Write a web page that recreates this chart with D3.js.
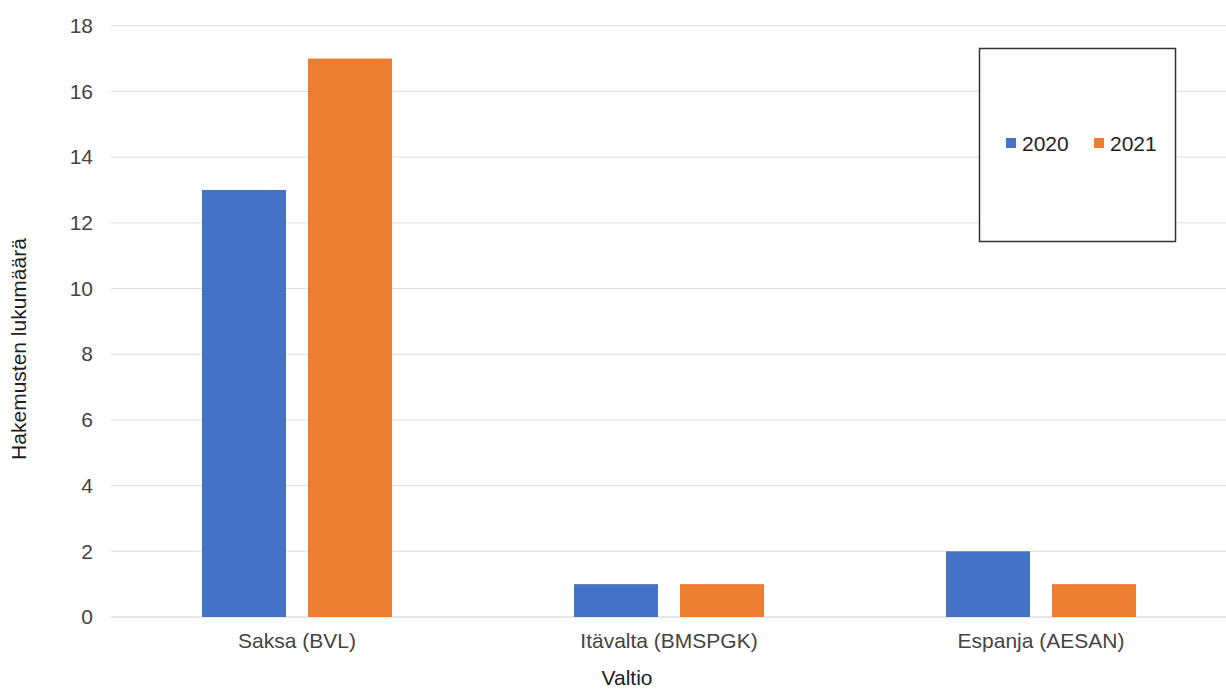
<!DOCTYPE html>
<html><head><meta charset="utf-8">
<script src="https://cdn.jsdelivr.net/npm/d3@7"></script>
<style>
html,body{margin:0;padding:0;background:#fff;}
text{font-family:"Liberation Sans",Arial,sans-serif;}
</style></head>
<body>
<svg id="chart" width="1226" height="689"></svg>
<script>
const categories = ["Saksa (BVL)", "Itävalta (BMSPGK)", "Espanja (AESAN)"];
const seriesNames = ["2020", "2021"];
const values2020 = [13, 1, 2];
const values2021 = [17, 1, 1];
const yTicks = [0, 2, 4, 6, 8, 10, 12, 14, 16, 18];
const colors = ["#4472C4", "#ED7D31"];

(function () {
const svg = d3.select("#chart");
const mLeft = 111, mRight = 1227, mTop = 25.7, mBottom = 617;

const x0 = d3.scaleBand().domain(categories).range([mLeft, mRight]).padding(0);
const x1 = d3.scaleBand().domain(seriesNames).range([0, x0.bandwidth()])
  .paddingInner(0.2075).paddingOuter(0.858);
const y = d3.scaleLinear().domain([0, 18]).range([mBottom, mTop]);

// gridlines
svg.append("g").selectAll("line").data(yTicks).join("line")
  .attr("x1", mLeft).attr("x2", 1226)
  .attr("y1", d => y(d)).attr("y2", d => y(d))
  .attr("stroke", d => d === 0 ? "#cfcfcf" : "#dedede").attr("stroke-width", 1);

// y axis labels via axis
const yAxis = svg.append("g").attr("transform", `translate(${mLeft},0)`)
  .call(d3.axisLeft(y).tickValues(yTicks).tickSize(0).tickPadding(18));
yAxis.select(".domain").remove();
yAxis.selectAll("text").attr("font-size", 21).attr("fill", "#444")
  .attr("font-family", "Liberation Sans, Arial, sans-serif");

// bars
const data = categories.map((c, i) => ({cat: c, vals: [values2020[i], values2021[i]]}));
const groups = svg.append("g").selectAll("g").data(data).join("g")
  .attr("transform", d => `translate(${x0(d.cat)},0)`);
groups.selectAll("rect").data(d => d.vals.map((v, j) => ({s: seriesNames[j], v, j})))
  .join("rect")
  .attr("x", d => x1(d.s)).attr("width", x1.bandwidth())
  .attr("y", d => y(d.v)).attr("height", d => y(0) - y(d.v))
  .attr("fill", d => colors[d.j]);

// x axis labels
const xAxis = svg.append("g").attr("transform", `translate(0,${mBottom})`)
  .call(d3.axisBottom(x0).tickSize(0).tickPadding(16));
xAxis.select(".domain").remove();
xAxis.selectAll("text").attr("font-size", 21).attr("fill", "#444")
  .attr("font-family", "Liberation Sans, Arial, sans-serif");

// axis titles
svg.append("text").attr("x", 627).attr("y", 685).attr("text-anchor", "middle")
  .attr("font-size", 21).attr("fill", "#222").text("Valtio");
svg.append("text").attr("transform", "translate(26,349) rotate(-90)")
  .attr("text-anchor", "middle").attr("font-size", 21).attr("fill", "#222")
  .text("Hakemusten lukumäärä");

// legend
const lg = svg.append("g");
lg.append("rect").attr("x", 979.5).attr("y", 48.5).attr("width", 196).attr("height", 193)
  .attr("fill", "#fff").attr("stroke", "#333").attr("stroke-width", 1.5);
const legX = [1006, 1094];
seriesNames.forEach((s, i) => {
  lg.append("rect").attr("x", legX[i]).attr("y", 138).attr("width", 10).attr("height", 10)
    .attr("fill", colors[i]);
  lg.append("text").attr("x", legX[i] + 16).attr("y", 150.5)
    .attr("font-size", 21).attr("fill", "#222").text(s);
});
})();
</script>
</body></html>
